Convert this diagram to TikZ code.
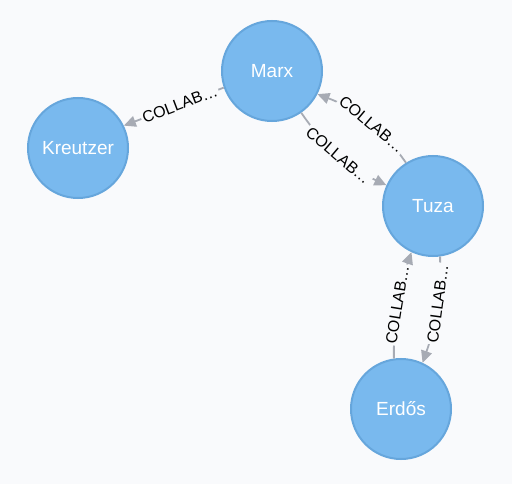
\documentclass[tikz,border=0pt]{standalone}
\usepackage{fontspec}
\setmainfont{Liberation Sans}
\usetikzlibrary{arrows.meta}
\definecolor{pagebg}{HTML}{F9FAFC}
\definecolor{personfill}{HTML}{79B9EE}
\definecolor{personline}{HTML}{66A6DC}
\definecolor{relgrey}{HTML}{A7ABB4}
\begin{document}
\begin{tikzpicture}[x=1pt,y=1pt,
  person/.style={circle, draw=personline, line width=2pt, fill=personfill, minimum size=100pt, inner sep=0pt, text=white, font=\fontsize{19}{22}\selectfont},
  rel/.style={draw=relgrey, line width=1.8pt, -{Triangle[length=12pt,width=11pt]}},
  rellabel/.style={midway, sloped, fill=pagebg, inner sep=1.5pt, text=black, font=\fontsize{16}{18}\selectfont}]
\fill[pagebg] (0,0) rectangle (512,-484);
\node[person] (marx) at (272,-71) {Marx};
\node[person] (kreutzer) at (78,-148) {Kreutzer};
\node[person] (tuza) at (433,-206) {Tuza};
\node[person] (erdos) at (401,-409) {Erdős};
\draw[rel] (marx.199) -- node[rellabel, pos=0.44] {COLLAB…} (kreutzer.26);
% parallel relationships are bent apart
\draw[rel] (tuza.122) to[bend right=17] node[rellabel, pos=0.45] {COLLAB…} (marx.-27);
\draw[rel] (marx.-55) to[bend right=15] node[rellabel] {COLLAB…} (tuza.156);
\draw[rel] (erdos.98) to[bend left=10] node[rellabel] {COLLAB…} (tuza.245);
\draw[rel] (tuza.278) to[bend left=10] node[rellabel, pos=0.43] {COLLAB…} (erdos.65);
\end{tikzpicture}
\end{document}
